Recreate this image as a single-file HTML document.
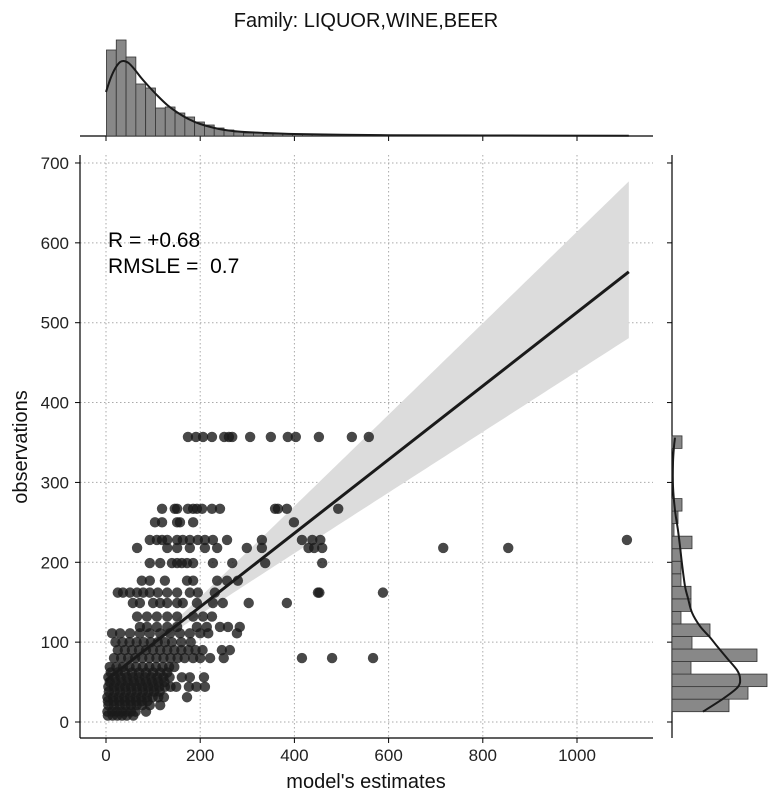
<!DOCTYPE html>
<html><head><meta charset="utf-8"><style>
body{margin:0;background:#fff;}
svg{display:block;font-family:"Liberation Sans",sans-serif;}
</style></head><body>
<svg id="chart" width="781" height="801" viewBox="0 0 781 801">
<text x="366" y="27" text-anchor="middle" font-size="20" fill="#111">Family: LIQUOR,WINE,BEER</text>
<g id="grid"></g>
<g id="band"></g>
<g id="pts"></g>
<g id="reg"></g>
<g id="axes"></g>
<g id="tophist"></g>
<g id="righthist"></g>
<text x="108" y="247" font-size="21" fill="#000">R = +0.68</text>
<text x="108" y="273" font-size="21" fill="#000" xml:space="preserve">RMSLE =  0.7</text>
<text x="366" y="788" text-anchor="middle" font-size="20" fill="#111">model's estimates</text>
<text x="0" y="0" transform="translate(27,447) rotate(-90)" text-anchor="middle" font-size="20" fill="#111">observations</text>
</svg>
<script>
const xTicks=[0,200,400,600,800,1000];
const yTicks=[0,100,200,300,400,500,600,700];
const obsLevels=[357,267,250,228,218,199,177,162,149,132,119,111,100,90,80,69,62,56,50,44,38,31,26,21,13,8];
const estRows=[
 [174,191,206,225,251,261,268,306,350,386,403,452,522,558],
 [119,146,151,174,185,193,204,225,242,359,365,384,493],
 [104,119,151,157,185,399],
 [93,108,119,130,151,163,178,195,210,227,257,331,416,438,455,1106],
 [66,130,151,178,210,236,299,331,430,442,459,716,854],
 [93,115,140,151,161,172,185,227,268,338,459],
 [76,93,125,172,185,236,257,280],
 [25,36,51,66,79,93,110,130,151,178,195,231,450,453,588],
 [57,72,100,115,130,151,163,193,227,248,303,384],
 [66,87,108,130,151,185,206,225],
 [72,87,108,130,151,193,214,242,259,284],
 [13,30,51,72,93,115,136,157,178,200,217,278],
 [20,35,50,65,80,95,110,125,140,160,180],
 [25,40,55,70,85,100,115,130,145,160,175,190,205,246,263],
 [17,32,47,62,77,92,107,122,137,152,167,185,200,221,250,416,480,567],
 [8,22,36,50,64,78,92,106,120,134,145],
 [10,25,40,55,70,85,100,115,130],
 [5,18,31,44,57,70,83,96,109,122,135,161,178,208],
 [8,20,33,46,59,72,85,98,111,124],
 [5,17,29,41,53,65,77,89,101,113,125,137,149,176,192,210],
 [6,18,30,42,54,66,78,90,102,114],
 [3,15,27,39,51,63,75,87,99,111,123,172],
 [4,16,28,40,52,64,76,88],
 [5,17,29,41,53,65,77,93,115],
 [3,13,23,33,43,53,63,85],
 [4,14,24,34,44,58]
];
const topHist=[86,96,79,52,48,28,29,23,19,14,11,8,6,4,3,3,2,2,2,2,1.5,1.5,1,1,1,1,1,1,1,1,0.5,0.5,0.5,0.5,0.5,0.5,0.5,0.5,0.5,0.5,0.3,0.3,0.3,0.3,0.3,0.3,0.3,0.3,0.3,0.3,0.3,0.3,0.3];
const topKdeX=[0,10,20,30,38,48,60,75,90,110,130,150,175,200,240,280,340,400,500,600,800,1110];
const topKdeD=[44,58,68,74,75,73,67,58,50,40,31,24,17,12,7,4.5,3,2,1.3,0.8,0.5,0.3];
const rightHist=[57,76,95,19,85,20,38,9,19,19,9,9,9,20,2,6,10,0,0,0,0,10];
const rightKdeY=[13,30,44,55,65,80,95,106,120,137,155,170,198,220,240,265,295,325,345,356];
const rightKdeD=[31,52,66,68,65,55,45,38,28,20,16,13,10,8,6,3,1,1,2,3];
const regCoef=[52,0.461];
const ciParams=[5,0.112,0.082,100];

const NS="http://www.w3.org/2000/svg";
const sx=v=>106+v*0.471, sy=v=>722-v*0.7986;
function mk(tag,attrs,parent){const e=document.createElementNS(NS,tag);for(const k in attrs)e.setAttribute(k,attrs[k]);parent.appendChild(e);return e;}
function smooth(p){let d='M'+p[0][0]+','+p[0][1];for(let i=0;i<p.length-1;i++){const a=p[Math.max(0,i-1)],b=p[i],c=p[i+1],e=p[Math.min(p.length-1,i+2)];d+=' C'+(b[0]+(c[0]-a[0])/6)+','+(b[1]+(c[1]-a[1])/6)+' '+(c[0]-(e[0]-b[0])/6)+','+(c[1]-(e[1]-b[1])/6)+' '+c[0]+','+c[1];}return d;}
const grid=document.getElementById('grid'),axes=document.getElementById('axes');
xTicks.forEach(t=>{
 const l=mk('line',{x1:sx(t),x2:sx(t),y1:155,y2:738,stroke:'#aaa','stroke-width':1,'stroke-dasharray':'1.5,2.5'},grid);
 
 
 const tk=mk('line',{x1:sx(t),x2:sx(t),y1:738,y2:743,stroke:'#000'},axes);
 
 
 const tt=mk('line',{x1:sx(t),x2:sx(t),y1:136,y2:141,stroke:'#000'},axes);
 
 
 const tx=mk('text',{x:sx(t),y:761,'text-anchor':'middle','font-size':17,fill:'#222'},axes);
 tx.textContent=t;
 
 
});
yTicks.forEach(t=>{
 const l=mk('line',{x1:80,x2:653,y1:sy(t),y2:sy(t),stroke:'#aaa','stroke-width':1,'stroke-dasharray':'1.5,2.5'},grid);
 
 
 const tk=mk('line',{x1:75,x2:80,y1:sy(t),y2:sy(t),stroke:'#000'},axes);
 
 
 const tr=mk('line',{x1:667,x2:672,y1:sy(t),y2:sy(t),stroke:'#000'},axes);
 
 
 const tx=mk('text',{x:69,y:sy(t)+6,'text-anchor':'end','font-size':17,fill:'#222'},axes);
 tx.textContent=t;
 
 
});
const sp1=mk('line',{x1:80,x2:80,y1:155,y2:738,stroke:'#000','stroke-width':1.2},axes);


const sp2=mk('line',{x1:80,x2:653,y1:738,y2:738,stroke:'#000','stroke-width':1.2},axes);


const sp3=mk('line',{x1:80,x2:653,y1:136,y2:136,stroke:'#000','stroke-width':1.2},axes);


const sp4=mk('line',{x1:672,x2:672,y1:155,y2:738,stroke:'#000','stroke-width':1.2},axes);



const band=document.getElementById('band');
let up=[],lo=[];
for(let x=0;x<=1110;x+=10){const y=regCoef[0]+regCoef[1]*x;const hu=Math.sqrt(ciParams[0]**2+(ciParams[1]*(x-ciParams[3]))**2);const hl=Math.sqrt(ciParams[0]**2+(ciParams[2]*(x-ciParams[3]))**2);up.push(sx(x)+','+sy(y+hu));lo.unshift(sx(x)+','+sy(y-hl));}
const bp=mk('polygon',{points:up.concat(lo).join(' '),fill:'#dcdcdc'},band);


const pts=document.getElementById('pts');
obsLevels.forEach((o,i)=>{estRows[i].forEach(e=>{
 const c=mk('circle',{cx:sx(e),cy:sy(o),r:5.2,fill:'#1a1a1a','fill-opacity':0.8},pts);
 
 
});});
const rl=mk('line',{x1:sx(0),y1:sy(regCoef[0]),x2:sx(1110),y2:sy(regCoef[0]+regCoef[1]*1110),stroke:'#1a1a1a','stroke-width':3},document.getElementById('reg'));



const th=document.getElementById('tophist');
const bw=20.8,b0=1;
topHist.forEach((h,i)=>{
 const x0=sx(b0+i*bw),x1=sx(b0+(i+1)*bw);
 const r=mk('rect',{x:x0,y:136-h,width:x1-x0,height:h,fill:'#888',stroke:'#333','stroke-width':0.8},th);
 
 
});
const tk=mk('path',{d:smooth(topKdeX.map((x,i)=>[sx(x),136-topKdeD[i]])),fill:'none',stroke:'#1a1a1a','stroke-width':2},th);



const rh=document.getElementById('righthist');
const rbw=15.7,rb0=12.9;
rightHist.forEach((w,i)=>{
 if(w<=0)return;
 const y0=sy(rb0+(i+1)*rbw),y1=sy(rb0+i*rbw);
 const r=mk('rect',{x:672,y:y0,width:w,height:y1-y0,fill:'#888',stroke:'#333','stroke-width':0.8},rh);
 
 
});
const rk=mk('path',{d:smooth(rightKdeY.map((y,i)=>[672+rightKdeD[i],sy(y)])),fill:'none',stroke:'#1a1a1a','stroke-width':2},rh);


</script>
</body></html>
